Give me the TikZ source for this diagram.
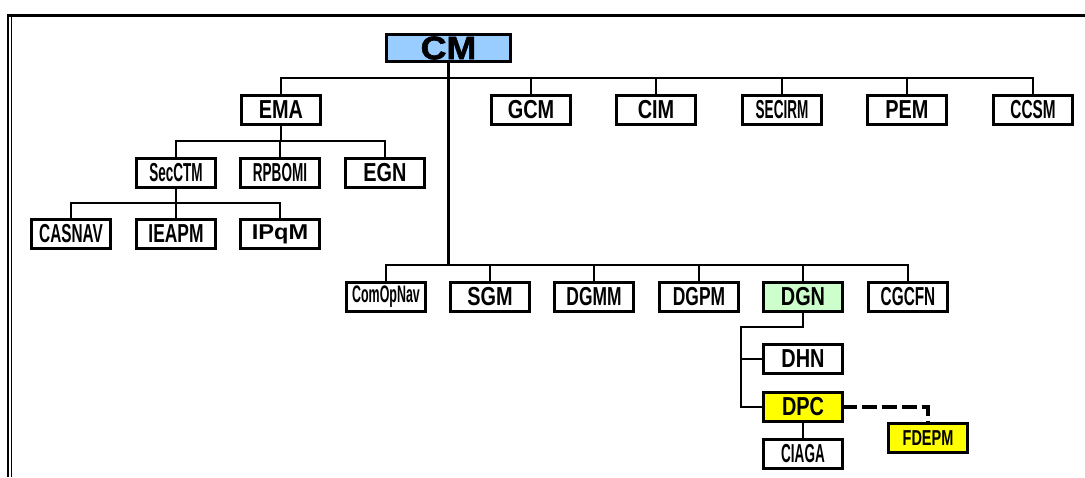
\documentclass[tikz,border=0pt]{standalone}
\usepackage{fontspec}
\setmainfont{Liberation Sans}[FakeStretch=0.765]
\newfontfamily\medfont{Liberation Sans}[FakeStretch=0.67]
\newfontfamily\narrowfont{Liberation Sans}[FakeStretch=0.59]
\newfontfamily\condfont{Liberation Sans}[FakeStretch=0.52]
\newfontfamily\widefont{Liberation Sans}[FakeStretch=1.1]
\newfontfamily\heavyfont{Liberation Sans}[FakeStretch=1.1,FakeBold=1.8]
\usepackage{tikz}
\definecolor{cmblue}{RGB}{153,204,255}
\definecolor{dgngreen}{RGB}{204,255,204}
\definecolor{dpcyellow}{RGB}{255,255,0}

\begin{document}
\begin{tikzpicture}[x=0.02cm,y=-0.02cm,
    unit/.style={draw,line width=1.9pt,fill=white,minimum width=1.57cm,minimum height=0.57cm,
      inner sep=0pt,outer sep=0pt,font=\bfseries\fontsize{14.8}{16}\selectfont},
    med/.style={font=\medfont\bfseries\fontsize{14.8}{16}\selectfont},
    narrow/.style={font=\narrowfont\bfseries\fontsize{14.8}{16}\selectfont},
    cond/.style={font=\condfont\bfseries\fontsize{14.8}{16}\selectfont},
    link/.style={line width=1.3pt}]
    \useasboundingbox (0,0) rectangle (1085,477);
    % frame
    \draw[line width=2pt] (7,15.5) -- (1085,15.5);
    \draw[line width=1.1pt] (8.3,14) -- (8.3,477);
    \draw[line width=0.6pt] (11.5,17) -- (11.5,477);
    % bus heights
    \coordinate (topbus) at (0,78);
    \coordinate (emabus) at (0,141);
    \coordinate (secbus) at (0,203);
    \coordinate (cmbus) at (0,265);
    \coordinate (elbow) at (741,327);
    % top
    \node[unit,fill=cmblue,minimum width=2.47cm,minimum height=0.53cm,font=\heavyfont\bfseries\fontsize{18.5}{19}\selectfont] (cm) at (448.5,48) {CM};
    \node[unit] (ema) at (281,110) {EMA};
    \node[unit] (gcm) at (531,110) {GCM};
    \node[unit] (cim) at (656,110) {CIM};
    \node[unit,cond] (secirm) at (782,110) {SECIRM};
    \node[unit] (pem) at (907,110) {PEM};
    \node[unit,narrow] (ccsm) at (1033,110) {CCSM};
    % EMA branch
    \node[unit,cond] (secctm) at (176,173) {SecCTM};
    \node[unit,cond] (rpbomi) at (280,173) {RPBOMI};
    \node[unit] (egn) at (385,173) {EGN};
    \node[unit,narrow] (casnav) at (71,234) {CASNAV};
    \node[unit,med] (ieapm) at (176,234) {IEAPM};
    \node[unit,font=\widefont\bfseries\fontsize{12.2}{13}\selectfont] (ipqm) at (280,234) {IPqM};
    % CM lower branch
    \node[unit,font=\condfont\bfseries\fontsize{13.6}{14}\selectfont] (comopnav) at (386,297) {ComOpNav};
    \node[unit] (sgm) at (490,297) {SGM};
    \node[unit,med] (dgmm) at (594,297) {DGMM};
    \node[unit,med] (dgpm) at (699,297) {DGPM};
    \node[unit,fill=dgngreen] (dgn) at (803,297) {DGN};
    \node[unit,narrow] (cgcfn) at (908,297) {CGCFN};
    \node[unit] (dhn) at (803,359) {DHN};
    \node[unit,fill=dpcyellow] (dpc) at (803,407) {DPC};
    \node[unit,cond] (ciaga) at (803,454) {CIAGA};
    \node[unit,fill=dpcyellow,font=\medfont\bfseries\fontsize{12.3}{13}\selectfont] (fdepm) at (928,438) {FDEPM};
    % links
    \draw[link] (cm.south) -- (cm.south |- cmbus);
    \draw[link] (ema.north) |- (ccsm.north |- topbus) -- (ccsm.north);
    \foreach \n in {gcm,cim,secirm,pem}
      \draw[link] (\n.north) -- (\n.north |- topbus);
    \draw[link] (ema.south) -- (ema.south |- emabus);
    \draw[link] (secctm.north) |- (egn.north |- emabus) -- (egn.north);
    \draw[link] (rpbomi.north) -- (rpbomi.north |- emabus);
    \draw[link] (secctm.south) -- (secctm.south |- secbus);
    \draw[link] (casnav.north) |- (ipqm.north |- secbus) -- (ipqm.north);
    \draw[link] (ieapm.north) -- (ieapm.north |- secbus);
    \draw[link] (comopnav.north) |- (cgcfn.north |- cmbus) -- (cgcfn.north);
    \foreach \n in {sgm,dgmm,dgpm,dgn}
      \draw[link] (\n.north) -- (\n.north |- cmbus);
    \draw[link] (dgn.south) |- (elbow) |- (dpc.west);
    \draw[link] (elbow |- dhn.west) -- (dhn.west);
    \draw[link] (dpc.south) -- (ciaga.north);
    \draw[line width=1.8pt,dash pattern=on 8.5pt off 2.8pt] (dpc.east) -| (fdepm.north);
\end{tikzpicture}
\end{document}
